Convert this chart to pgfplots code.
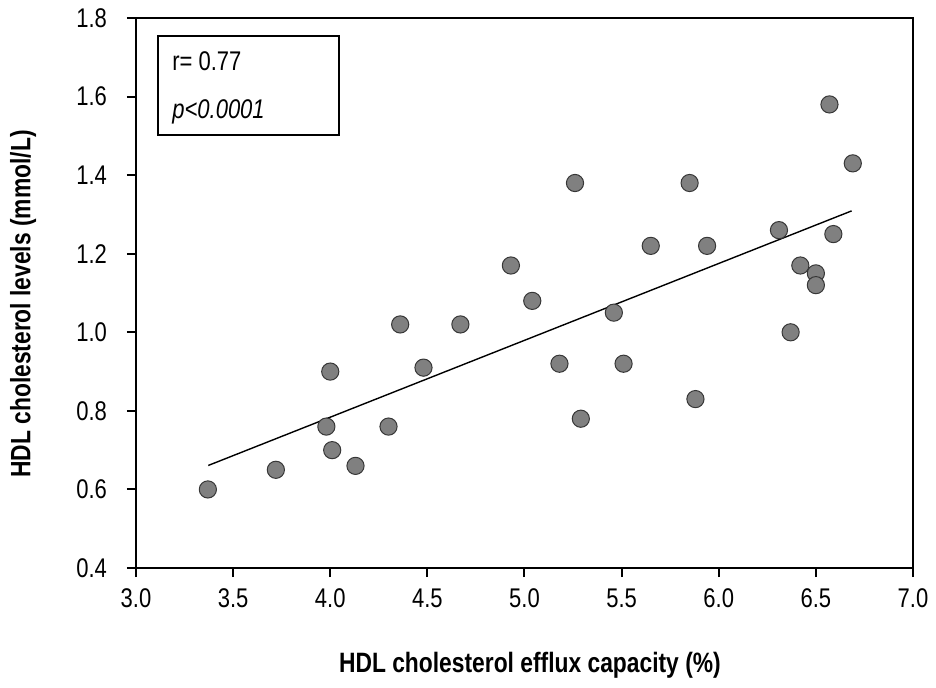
\documentclass[border=0pt]{standalone}
\usepackage{fontspec}
\setmainfont{Liberation Sans}[FakeStretch=0.815]
\usepackage{pgfplots}
\pgfplotsset{compat=1.18}
\definecolor{markgray}{RGB}{128,128,128}
\definecolor{markedge}{RGB}{55,55,55}
\begin{document}
\begin{tikzpicture}
\begin{axis}[
  scale only axis, width=388.5pt, height=275pt,
  xmin=3, xmax=7, ymin=0.4, ymax=1.8,
  xtick={3,3.5,4,4.5,5,5.5,6,6.5,7},
  ytick={0.4,0.6,0.8,1.0,1.2,1.4,1.6,1.8},
  axis line style={line width=1pt},
  tick style={line width=1pt, black},
  tick align=outside,
  major tick length=4.5pt,
  xtick pos=bottom, ytick pos=left,
  /pgf/number format/assume math mode=true,
  /pgf/number format/fixed, /pgf/number format/fixed zerofill,
  /pgf/number format/precision=1,
  ticklabel style={font=\fontsize{13.5pt}{15pt}\selectfont},
  xticklabel style={yshift=-2.5pt},
  yticklabel style={xshift=-6.5pt},
  xlabel={\textbf{HDL cholesterol efflux capacity (\%)}},
  ylabel={\textbf{HDL cholesterol levels (mmol/L)}},
  label style={font=\fontsize{14pt}{16pt}\selectfont},
  xlabel style={at={(axis description cs:0.507,-0.176)}, anchor=center},
  ylabel style={at={(axis description cs:-0.1454,0.48)}, anchor=center},
  clip=false,
]
\addplot[black, line width=0.7pt] coordinates {(3.372,0.661) (6.684,1.309)};
\addplot[only marks, mark=*, mark size=4.3pt,
  mark options={fill=markgray, draw=markedge, line width=0.5pt}] coordinates {
(3.37,0.60) (3.72,0.65) (3.98,0.76) (4.00,0.90) (4.01,0.70) (4.13,0.66)
(4.30,0.76) (4.36,1.02) (4.48,0.91) (4.67,1.02) (4.93,1.17) (5.04,1.08)
(5.26,1.38) (5.65,1.22) (5.85,1.38) (5.94,1.22) (6.31,1.26) (6.57,1.58)
(6.69,1.43) (6.59,1.25) (6.42,1.17) (6.50,1.15) (6.50,1.12) (5.18,0.92)
(5.46,1.05) (5.51,0.92) (5.29,0.78) (5.88,0.83) (6.37,1.00)
};
\draw[line width=1pt] (axis cs:3.115,1.753) rectangle (axis cs:4.045,1.502);
\node[anchor=west, inner sep=0pt, font=\fontsize{13.5pt}{15pt}\selectfont] at (axis cs:3.185,1.690) {r= 0.77};
\node[anchor=west, inner sep=0pt, font=\fontsize{13.5pt}{15pt}\selectfont\itshape] at (axis cs:3.185,1.562) {p<0.0001};
\end{axis}
\pgfresetboundingbox
\path[use as bounding box] ([shift={(-68pt,-59.5pt)}]current axis.south west) rectangle ([shift={(11.5pt,9pt)}]current axis.north east);
\end{tikzpicture}
\end{document}
